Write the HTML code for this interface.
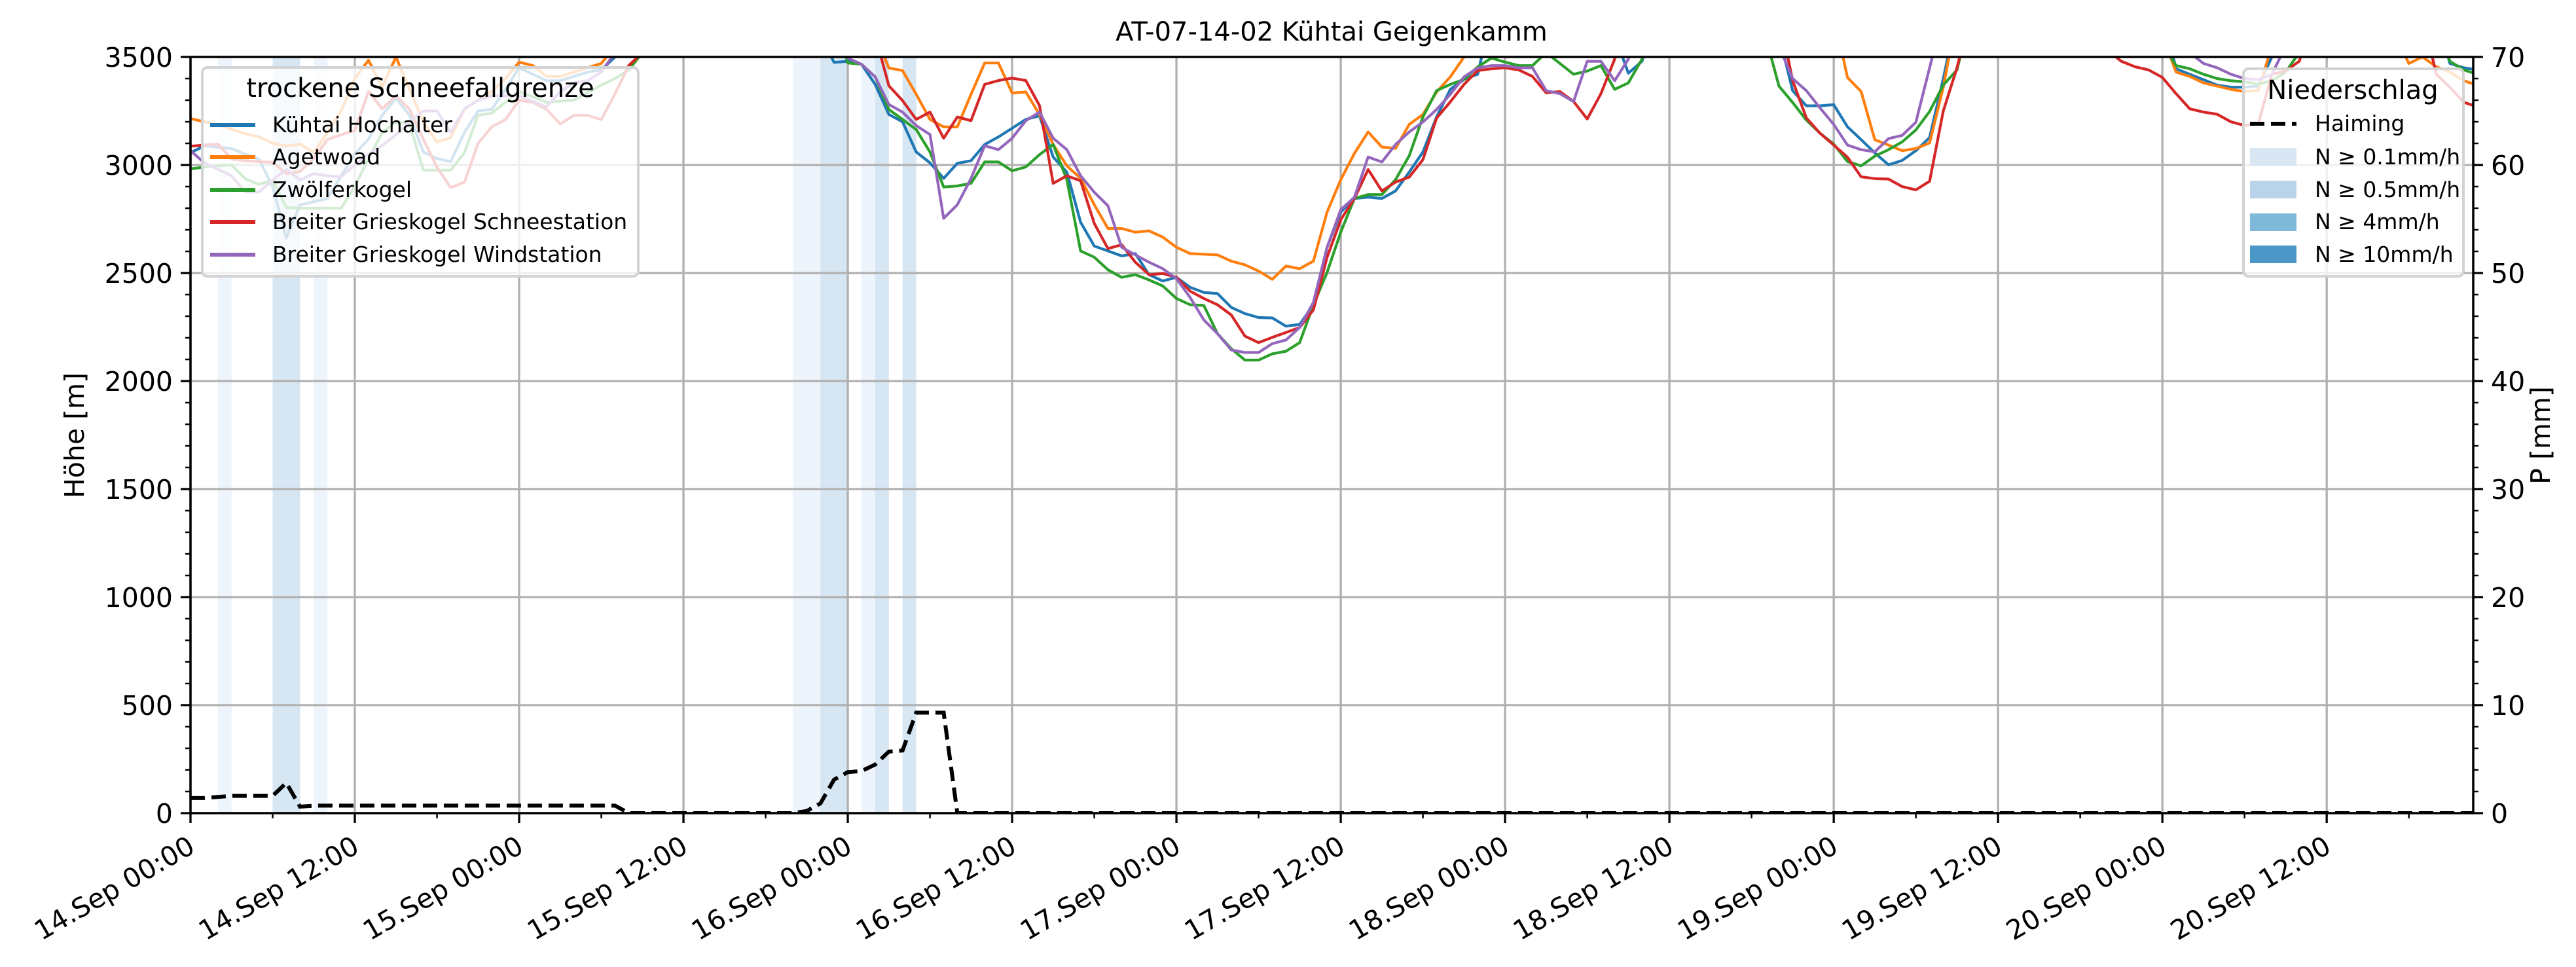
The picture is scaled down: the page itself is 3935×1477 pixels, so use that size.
<!DOCTYPE html>
<html><head><meta charset="utf-8"><title>AT-07-14-02 Kühtai Geigenkamm</title>
<style>html,body{margin:0;padding:0;background:#fff}svg{display:block;font-family:"DejaVu Sans","Liberation Sans",sans-serif}</style>
</head><body>
<svg id="chart" width="3935" height="1477" viewBox="0 0 3935 1477" xmlns="http://www.w3.org/2000/svg">
<rect x="0" y="0" width="3935" height="1477" fill="#fff"/>
<defs><clipPath id="plotclip"><rect x="291" y="87" width="3487" height="1155"/></clipPath></defs>
<g id="bands" clip-path="url(#plotclip)"></g>
<g id="grid"></g>
<g id="series" clip-path="url(#plotclip)"></g>
<g id="axes"></g>
<text x="2034" y="62" font-size="40" text-anchor="middle">AT-07-14-02 Kühtai Geigenkamm</text>
<text transform="translate(128,665) rotate(-90)" font-size="41" text-anchor="middle">Höhe [m]</text>
<text transform="translate(3895,665) rotate(-90)" font-size="41" text-anchor="middle">P [mm]</text>
<g>
<rect x="309" y="103" width="666" height="319" rx="8" fill="rgba(255,255,255,0.8)" stroke="#d3d3d3" stroke-width="4"/>
<text x="642" y="148" font-size="40" text-anchor="middle">trockene Schneefallgrenze</text>
<line x1="321" y1="191" x2="390" y2="191" stroke="#1f77b4" stroke-width="6"/><text x="416" y="202" font-size="33">Kühtai Hochalter</text>
<line x1="321" y1="240" x2="390" y2="240" stroke="#ff7f0e" stroke-width="6"/><text x="416" y="251" font-size="33">Agetwoad</text>
<line x1="321" y1="290" x2="390" y2="290" stroke="#2ca02c" stroke-width="6"/><text x="416" y="301" font-size="33">Zwölferkogel</text>
<line x1="321" y1="339" x2="390" y2="339" stroke="#d62728" stroke-width="6"/><text x="416" y="350" font-size="33">Breiter Grieskogel Schneestation</text>
<line x1="321" y1="389" x2="390" y2="389" stroke="#9467bd" stroke-width="6"/><text x="416" y="400" font-size="33">Breiter Grieskogel Windstation</text>
</g>
<g>
<rect x="3427" y="105" width="336" height="317" rx="8" fill="rgba(255,255,255,0.8)" stroke="#d3d3d3" stroke-width="4"/>
<text x="3594" y="151" font-size="40" text-anchor="middle">Niederschlag</text>
<line x1="3437" y1="189" x2="3508" y2="189" stroke="#000" stroke-width="6" stroke-dasharray="22,10"/><text x="3536" y="200" font-size="33">Haiming</text>
<rect x="3437" y="226" width="71" height="27" fill="#d8e7f3"/><text x="3536" y="251" font-size="33">N ≥ 0.1mm/h</text>
<rect x="3437" y="276" width="71" height="27" fill="#b9d4ea"/><text x="3536" y="301" font-size="33">N ≥ 0.5mm/h</text>
<rect x="3437" y="326" width="71" height="27" fill="#80b8d9"/><text x="3536" y="350" font-size="33">N ≥ 4mm/h</text>
<rect x="3437" y="375" width="71" height="27" fill="#4a97c8"/><text x="3536" y="400" font-size="33">N ≥ 10mm/h</text>
</g>
</svg>
<script>
// ---- data (hourly, hour 0 = 14.Sep 00:00) ----
const xTickLabels = ["14.Sep 00:00","14.Sep 12:00","15.Sep 00:00","15.Sep 12:00","16.Sep 00:00","16.Sep 12:00","17.Sep 00:00","17.Sep 12:00","18.Sep 00:00","18.Sep 12:00","19.Sep 00:00","19.Sep 12:00","20.Sep 00:00","20.Sep 12:00"];
const yTicks = [0,500,1000,1500,2000,2500,3000,3500];
const y2Ticks = [0,10,20,30,40,50,60,70];
const C = 3700;
const kuehtai = [3057,3088,3082,3076,3050,3027,2900,2663,2815,2830,2845,2950,3050,3120,3230,3309,3230,3060,3030,3015,3150,3250,3258,3350,3450,3420,3390,3390,3410,3430,3440,3500,C,C,C,C,C,C,C,C,C,C,C,C,C,C,3600,3475,3480,3466,3373,3234,3200,3060,3010,2938,3008,3020,3095,3130,3170,3211,3228,3037,2967,2735,2625,2602,2579,2590,2492,2463,2480,2434,2410,2405,2341,2312,2294,2292,2254,2262,2352,2619,2782,2845,2851,2845,2880,2967,3060,3222,3350,3396,3420,C,C,C,C,C,C,C,C,C,3600,3425,3480,C,C,C,C,C,C,C,C,C,3600,3344,3274,3274,3279,3177,3117,3056,3001,3021,3066,3127,3400,C,C,C,C,C,C,C,C,C,C,C,C,C,C,C,C,3445,3420,3395,3370,3360,3360,3365,3500,C,C,C,C,C,C,C,C,C,C,C,C,3470,3450,3440];
const agetwoad = [3215,3200,3188,3165,3145,3130,3100,3088,3097,3058,3150,3250,3400,3485,3360,3500,3350,3200,3106,3127,3258,3300,3340,3400,3476,3460,3410,3410,3430,3450,3470,3550,C,C,C,C,C,C,C,C,C,C,C,C,C,C,C,C,C,C,3600,3449,3437,3327,3211,3176,3176,3327,3472,3472,3333,3338,3234,3095,2996,2938,2816,2706,2706,2689,2695,2666,2619,2590,2587,2584,2555,2538,2509,2471,2532,2520,2555,2782,2932,3054,3153,3083,3077,3188,3234,3338,3408,3500,C,C,C,C,C,C,C,C,C,C,C,C,C,C,C,C,C,C,C,C,C,C,C,C,C,C,C,3405,3340,3117,3092,3066,3076,3102,3360,C,C,C,C,C,C,C,C,C,C,C,C,C,C,C,3600,3430,3410,3380,3365,3350,3340,3345,3550,C,C,C,C,C,C,C,C,3600,3470,3500,3455,3430,3390,3370];
const zwoelfer = [2982,2990,2997,3000,2936,2910,2930,2803,2800,2800,2800,2800,2900,3030,3150,3200,3190,2976,2976,2976,3057,3230,3240,3290,3340,3315,3290,3295,3300,3335,3370,3400,3440,3520,C,C,C,C,C,C,C,C,C,C,C,C,C,C,3472,3466,3408,3257,3211,3164,3060,2898,2903,2915,3014,3014,2973,2991,3048,3095,2932,2602,2573,2515,2480,2492,2468,2440,2382,2353,2350,2219,2150,2097,2097,2126,2138,2178,2352,2503,2689,2845,2863,2863,2932,3043,3222,3344,3373,3396,3454,3495,3476,3460,3460,3520,3470,3420,3435,3460,3350,3380,3490,C,C,C,C,C,C,C,C,3600,3365,3289,3208,3147,3097,3016,2996,3041,3071,3107,3162,3248,3370,3440,C,C,C,C,C,C,C,C,C,C,C,C,C,C,3560,3460,3445,3420,3400,3390,3385,3375,3390,3430,3520,C,C,C,C,C,C,C,C,C,C,3480,3440,3420];
const schneestation = [3087,3092,3097,3027,3020,3015,3012,2960,2970,3030,3118,3140,3160,3340,3260,3320,3258,3120,2990,2895,2920,3100,3177,3210,3300,3290,3258,3190,3230,3230,3210,3330,3460,3520,C,C,C,C,C,C,C,C,C,C,C,C,C,C,C,C,3600,3367,3298,3211,3245,3124,3222,3205,3373,3391,3402,3391,3275,2915,2950,2927,2729,2613,2631,2550,2492,2498,2480,2416,2382,2353,2306,2208,2178,2202,2225,2248,2329,2573,2747,2845,2979,2880,2921,2944,3025,3217,3292,3373,3437,3445,3450,3440,3410,3334,3340,3294,3213,3330,3490,C,C,C,C,C,C,C,C,C,C,C,C,3390,3218,3147,3092,3036,2945,2937,2935,2900,2885,2925,3250,3450,C,C,C,C,C,C,C,C,C,C,3530,3480,3455,3440,3405,3330,3260,3245,3235,3200,3183,3190,3420,3435,3480,C,C,C,C,C,C,C,C,C,3420,3360,3290,3270];
const windstation = [3067,3010,2980,2950,2875,2875,2930,2980,2930,2960,2950,2945,3000,3050,3090,3140,3200,3250,3250,3150,3260,3300,3320,3320,3320,3295,3270,3340,3380,3390,3430,3520,C,C,C,C,C,C,C,C,C,C,C,C,C,C,C,C,3495,3466,3408,3280,3245,3182,3141,2753,2816,2938,3089,3071,3124,3205,3245,3124,3071,2950,2874,2811,2619,2584,2550,2520,2474,2387,2283,2219,2144,2132,2132,2173,2190,2248,2364,2619,2793,2851,3037,3014,3095,3153,3199,3257,3327,3408,3449,3460,3460,3450,3450,3344,3330,3294,3480,3480,3390,3490,C,C,C,C,C,C,C,C,C,C,3550,3400,3344,3264,3188,3092,3071,3061,3122,3137,3198,3450,C,C,C,C,C,C,C,C,C,C,C,C,C,C,C,C,C,C,3520,3470,3450,3420,3400,3395,3420,3550,C,C,C,C,C,C,C,C,C,C,C,C,3520,3500];
const haiming = [1.4,1.4,1.5,1.6,1.6,1.6,1.6,2.8,0.6,0.7,0.7,0.7,0.7,0.7,0.7,0.7,0.7,0.7,0.7,0.7,0.7,0.7,0.7,0.7,0.7,0.7,0.7,0.7,0.7,0.7,0.7,0.7,0,0,0,0,0,0,0,0,0,0,0,0,0,0.2,0.9,3.1,3.8,3.9,4.5,5.7,5.8,9.3,9.3,9.3,0,0,0,0,0,0,0,0,0,0,0,0,0,0,0,0,0,0,0,0,0,0,0,0,0,0,0,0,0,0,0,0,0,0,0,0,0,0,0,0,0,0,0,0,0,0,0,0,0,0,0,0,0,0,0,0,0,0,0,0,0,0,0,0,0,0,0,0,0,0,0,0,0,0,0,0,0,0,0,0,0,0,0,0,0,0,0,0,0,0,0,0,0,0,0,0,0,0,0,0,0,0,0,0,0,0,0,0,0,0,0,0,0,0,0,0];
const bandStart = [2,6,9,44,46,49,50,52];
const bandEnd   = [3,8,10,46,48,50,51,53];
const bandLevel = [1,2,1,1,2,1,2,2];

// ---- scales ----
const L=291,R=3778,T=87,B=1242,HMAX=166.7;
const xs = h => L + h/HMAX*(R-L);
const ys = m => B - m/3500*(B-T);
const y2s = p => B - p/70*(B-T);
const NS="http://www.w3.org/2000/svg";
function mk(tag, parent){const e=document.createElementNS(NS,tag);parent.appendChild(e);return e;}
const bands=document.getElementById('bands'),grid=document.getElementById('grid'),series=document.getElementById('series'),axes=document.getElementById('axes');

const bandColors={1:"#eef4fb",2:"#d6e6f3"};
for(let i=0;i<bandStart.length;i++){
  const r=mk('rect',bands);
  
  
  r.setAttribute('x',xs(bandStart[i]));r.setAttribute('width',xs(bandEnd[i])-xs(bandStart[i]));
  r.setAttribute('y',T);r.setAttribute('height',B-T);r.setAttribute('fill',bandColors[bandLevel[i]]);
}
for(let i=0;i<xTickLabels.length;i++){
  const l=mk('line',grid);
  
  
  l.setAttribute('x1',xs(i*12));l.setAttribute('x2',xs(i*12));l.setAttribute('y1',T);l.setAttribute('y2',B);
  l.setAttribute('stroke','#b0b0b0');l.setAttribute('stroke-width','3.3');
}
yTicks.forEach(v=>{
  const l=mk('line',grid);
  
  
  l.setAttribute('x1',L);l.setAttribute('x2',R);l.setAttribute('y1',ys(v));l.setAttribute('y2',ys(v));
  l.setAttribute('stroke','#b0b0b0');l.setAttribute('stroke-width','3.3');
});
function pathFor(arr, sc){return arr.map((v,i)=>(i?'L':'M')+xs(i).toFixed(1)+','+sc(v).toFixed(1)).join(' ');}
const defs=[[kuehtai,'#1f77b4','line-kuehtai-hochalter'],[agetwoad,'#ff7f0e','line-agetwoad'],[zwoelfer,'#2ca02c','line-zwoelferkogel'],[schneestation,'#d62728','line-schneestation'],[windstation,'#9467bd','line-windstation']];
defs.forEach(d=>{
  const p=mk('path',series);
  
  
  p.setAttribute('d',pathFor(d[0],ys));p.setAttribute('fill','none');p.setAttribute('stroke',d[1]);p.setAttribute('stroke-width','4.2');p.setAttribute('stroke-linejoin','round');
});
const hp=mk('path',series);


hp.setAttribute('d',pathFor(haiming,y2s));hp.setAttribute('fill','none');hp.setAttribute('stroke','#000');hp.setAttribute('stroke-width','6');hp.setAttribute('stroke-dasharray','22,10');

const sp=mk('rect',axes);


sp.setAttribute('x',L);sp.setAttribute('y',T);sp.setAttribute('width',R-L);sp.setAttribute('height',B-T);sp.setAttribute('fill','none');sp.setAttribute('stroke','#000');sp.setAttribute('stroke-width','3.5');
function tick(x1,y1,x2,y2,w){const l=mk('line',axes);l.setAttribute('x1',x1);l.setAttribute('y1',y1);l.setAttribute('x2',x2);l.setAttribute('y2',y2);l.setAttribute('stroke','#000');l.setAttribute('stroke-width',w);return l;}
for(let h=0;h<=HMAX;h+=6){
  const major=h%12===0;
  const t=tick(xs(h),B,xs(h),B+(major?15:8),major?3.3:2.5);
  
  
}
xTickLabels.forEach((s,i)=>{
  const x=xs(i*12)-6,y=1274;
  const t=mk('text',axes);
  
  
  t.setAttribute('x',x);t.setAttribute('y',y);t.setAttribute('font-size','41');t.setAttribute('text-anchor','end');t.setAttribute('dominant-baseline','hanging');
  t.setAttribute('transform','rotate(-30 '+x+' '+y+')');t.textContent=s;
});
for(let m=0;m<=3500;m+=100){
  const major=m%500===0;
  const t=tick(L-(major?15:8),ys(m),L,ys(m),major?3.3:2.5);
  
  
}
yTicks.forEach(v=>{
  const t=mk('text',axes);
  
  
  t.setAttribute('x',L-27);t.setAttribute('y',ys(v)+15);t.setAttribute('font-size','41');t.setAttribute('text-anchor','end');t.textContent=v;
});
for(let p=0;p<=70;p+=2){
  const major=p%10===0;
  const t=tick(R,y2s(p),R+(major?15:8),y2s(p),major?3.3:2.5);
  
  
}
y2Ticks.forEach(v=>{
  const t=mk('text',axes);
  
  
  t.setAttribute('x',R+27);t.setAttribute('y',y2s(v)+15);t.setAttribute('font-size','41');t.setAttribute('text-anchor','start');t.textContent=v;
});
</script>
</body></html>
